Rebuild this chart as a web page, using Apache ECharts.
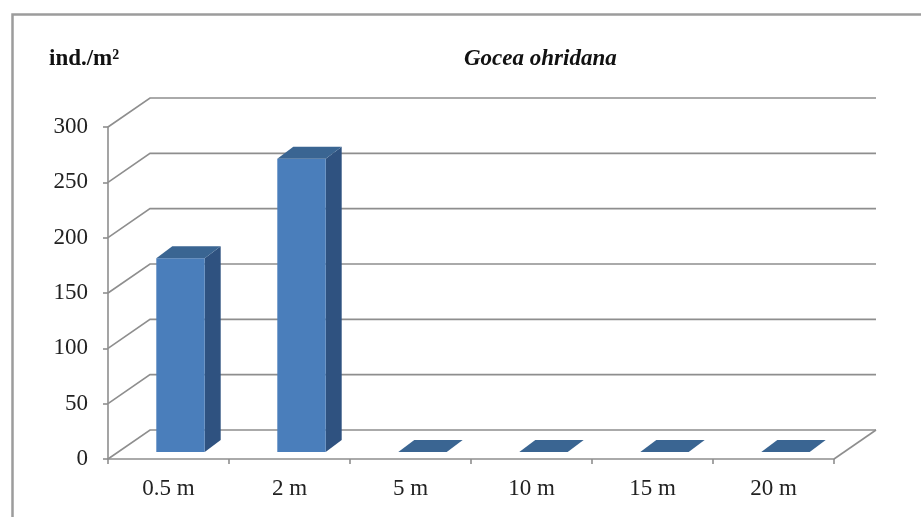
<!DOCTYPE html>
<html>
<head>
<meta charset="utf-8">
<script src="https://cdn.jsdelivr.net/npm/echarts@6/dist/echarts.min.js"></script>
<style>
  html, body { margin: 0; padding: 0; background: #fff; }
  #chart { width: 921px; height: 517px; }
</style>
</head>
<body>
<div id="chart"></div>
<script>
const categories = ['0.5 m', '2 m', '5 m', '10 m', '15 m', '20 m'];
const density = [175, 265, 0, 0, 0, 0];
const yTicks = [0, 50, 100, 150, 200, 250, 300];

// fake 3D: how far the back wall sits from the front plane, and the bar depth
const wallDx = 42, wallDy = -29;
const barShiftX = 12, barShiftY = -7;
const barDx = 16, barDy = -12;

const gridColor = '#8e8e8e';
const serif = '"Liberation Serif", "DejaVu Serif", serif';

const chart = echarts.init(document.getElementById('chart'));

function renderWall(params, api) {
  const cs = params.coordSys;
  const y = api.coord([0, api.value(1)])[1];
  const x0 = cs.x, x1 = cs.x + cs.width;
  const style = { stroke: gridColor, lineWidth: 1.6, fill: null };
  const children = [{
    type: 'polyline',
    shape: { points: [[x0, y], [x0 + wallDx, y + wallDy], [x1 + wallDx, y + wallDy]] },
    style: style
  }];
  if (api.value(1) === 0) {
    children.push({
      type: 'line',
      shape: { x1: x1, y1: y, x2: x1 + wallDx, y2: y + wallDy },
      style: style
    });
  }
  return { type: 'group', children: children };
}

function renderBar(params, api) {
  const i = api.value(0);
  const base = api.coord([i, 0]);
  const top = api.coord([i, api.value(1)]);
  const w = api.size([1, 0])[0] * 0.4;
  const cx = base[0] + barShiftX;
  const by = base[1] + barShiftY;
  const ty = top[1] + barShiftY;
  const l = cx - w / 2, r = cx + w / 2;
  return {
    type: 'group',
    children: [
      {
        type: 'polygon',
        shape: { points: [[r, by], [r + barDx, by + barDy], [r + barDx, ty + barDy], [r, ty]] },
        style: { fill: '#2f5280' }
      },
      {
        type: 'rect',
        shape: { x: l, y: ty, width: w, height: by - ty },
        style: { fill: '#4a7ebb' }
      },
      {
        type: 'polygon',
        shape: { points: [[l, ty], [l + barDx, ty + barDy], [r + barDx, ty + barDy], [r, ty]] },
        style: { fill: '#3a6592' }
      }
    ]
  };
}

chart.setOption({
  animation: false,
  backgroundColor: '#fff',
  graphic: [{
    type: 'rect',
    left: 10, top: 12,
    shape: { width: 940, height: 540 },
    style: { fill: null, stroke: '#9c9c9c', lineWidth: 2.5 },
    silent: true
  }],
  title: [
    {
      text: 'ind./m²',
      left: 44, top: 43,
      textStyle: { fontFamily: serif, fontSize: 23, fontWeight: 'bold', color: '#111' }
    },
    {
      text: 'Gocea ohridana',
      left: 459, top: 43,
      textStyle: { fontFamily: serif, fontSize: 23, fontWeight: 'bold', fontStyle: 'italic', color: '#111' }
    }
  ],
  grid: { left: 108, top: 127, right: 87, bottom: 58 },
  xAxis: {
    type: 'category',
    data: categories,
    axisLine: { lineStyle: { color: gridColor, width: 1.6 } },
    axisTick: { show: true, length: 5, lineStyle: { color: gridColor, width: 1.6 } },
    axisLabel: { margin: 18, fontFamily: serif, fontSize: 23, color: '#222' },
    splitLine: { show: false }
  },
  yAxis: {
    type: 'value',
    min: 0, max: 300, interval: 50,
    axisLine: { show: true, lineStyle: { color: gridColor, width: 1.6 } },
    axisTick: { show: true, length: 5, lineStyle: { color: gridColor, width: 1.6 } },
    axisLabel: { margin: 20, fontFamily: serif, fontSize: 23, color: '#222' },
    splitLine: { show: false }
  },
  series: [
    {
      type: 'custom',
      renderItem: renderWall,
      data: yTicks.map(v => [0, v]),
      z: 1,
      silent: true
    },
    {
      type: 'custom',
      renderItem: renderBar,
      data: density.map((v, i) => [i, v]),
      z: 3
    }
  ]
});
</script>
</body>
</html>
